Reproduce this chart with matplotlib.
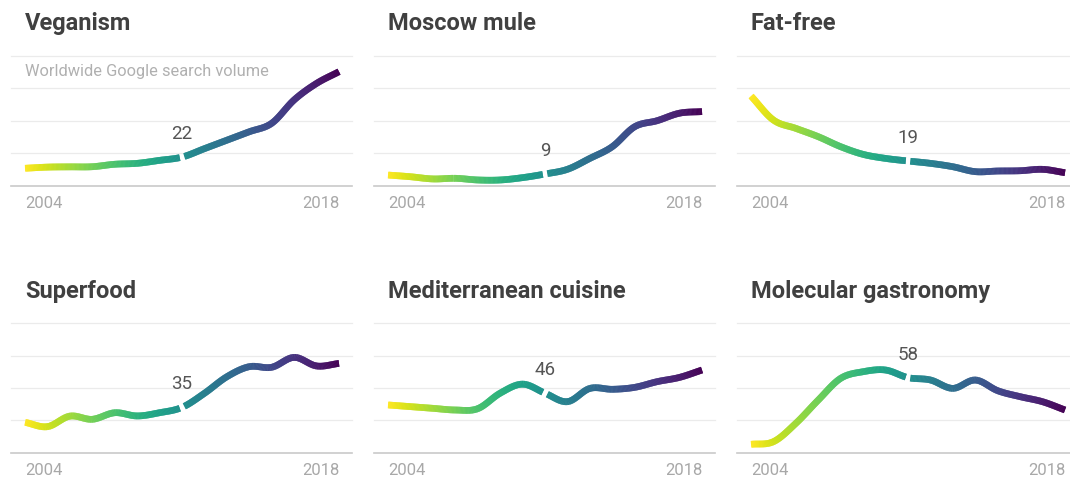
import numpy as np
import matplotlib
matplotlib.use("Agg")
import matplotlib.pyplot as plt
from matplotlib.collections import LineCollection
from matplotlib.colors import Normalize

plt.rcParams["font.family"] = ["Roboto", "DejaVu Sans"]

years = list(range(2004, 2019))

veganism = [13.4, 14.3, 14.5, 14.6, 16.5, 17.2, 19.5, 22, 28.5, 35, 41.5, 48, 66, 78.7, 87.7]
moscow_mule = [8.2, 6.9, 5.2, 5.7, 4.4, 4.4, 6.2, 9, 12.6, 21, 30, 45.4, 50, 55.8, 57]
fat_free = [69, 50.5, 44.1, 37.7, 30, 24.1, 21, 19, 17.2, 14.6, 10.8, 11.3, 11.5, 12.6, 10]
superfood = [23.5, 20.1, 28.3, 25.8, 30.9, 28.4, 30.9, 35, 45.9, 58.7, 66.5, 66, 73.7, 67, 69]
mediterranean = [36.9, 35.6, 34.3, 33, 34, 46, 53, 46, 39.4, 49.7, 49, 50.5, 54.9, 58.2, 63.9]
molecular = [6.5, 8.5, 22.7, 40.7, 57.5, 62.6, 63.9, 58, 56.2, 49.7, 56.2, 47.9, 43.3, 39.4, 33]

titles = ["Veganism", "Moscow mule", "Fat-free",
          "Superfood", "Mediterranean cuisine", "Molecular gastronomy"]
series = [veganism, moscow_mule, fat_free, superfood, mediterranean, molecular]
label_year = 2011
subtitle = "Worldwide Google search volume"
grid_values = [25, 50, 75, 100]

W, H = 1070, 479
fig = plt.figure(figsize=(W / 100, H / 100), dpi=100)
fig.patch.set_facecolor("white")

px_per_year = 22.43
pad = 14 / px_per_year
ax_w = 341
lefts = [11, 374, 737]
rows = [(55.7, 185.7), (323.3, 452.7)]  # (top, bottom) in pixels from top

norm = Normalize(years[0], years[-1])
cmap = plt.cm.viridis_r


def smooth(x, y, n=40):
    x = np.asarray(x, float)
    y = np.asarray(y, float)
    m = np.gradient(y, x)
    xs, ys = [], []
    t = np.linspace(0, 1, n, endpoint=False)
    h00 = 2 * t**3 - 3 * t**2 + 1
    h10 = t**3 - 2 * t**2 + t
    h01 = -2 * t**3 + 3 * t**2
    h11 = t**3 - t**2
    for i in range(len(x) - 1):
        h = x[i + 1] - x[i]
        xs.append(x[i] + t * h)
        ys.append(h00 * y[i] + h10 * h * m[i] + h01 * y[i + 1] + h11 * h * m[i + 1])
    xs.append([x[-1]])
    ys.append([y[-1]])
    return np.concatenate(xs), np.concatenate(ys)


def gradient_run(ax, px, py):
    pts = np.column_stack([px, py])
    m = len(pts)
    segs = [[pts[i], pts[min(i + 2, m - 1)]] for i in range(m - 1)]
    mids = (px[:-1] + px[1:]) / 2
    lc = LineCollection(segs, colors=cmap(norm(mids)), linewidths=4.8,
                        capstyle="butt", joinstyle="round", clip_on=False, zorder=3)
    ax.add_collection(lc)


for idx, (title, vals) in enumerate(zip(titles, series)):
    r, c = divmod(idx, 3)
    top, bottom = rows[r]
    ax = fig.add_axes([lefts[c] / W, (H - bottom) / H, ax_w / W, (bottom - top) / H])
    ax.set_xlim(years[0] - pad, years[-1] + 13 / px_per_year)
    ax.set_ylim(0, 100)
    ax.axis("off")

    for g in grid_values:
        ax.axhline(g, color="#ebebeb", lw=0.9, clip_on=False, zorder=1)
    ax.axhline(0, color="#c9c9c9", lw=1.2, clip_on=False, zorder=1)

    sx, sy = smooth(years, vals)
    gap = 0.09
    left_mask = sx <= label_year - gap
    right_mask = sx >= label_year + gap
    gradient_run(ax, sx[left_mask], sy[left_mask])
    gradient_run(ax, sx[right_mask], sy[right_mask])

    label_val = vals[years.index(label_year)]
    ax.annotate(f"{label_val:g}", xy=(label_year, label_val), xytext=(0, 23),
                textcoords="offset pixels", ha="center", va="center",
                fontsize=13.5, color="#555555", zorder=4)

    ax.annotate(title, xy=(0, 1), xycoords="axes fraction", xytext=(14, 32),
                textcoords="offset pixels", ha="left", va="center",
                fontsize=17, fontweight="bold", color="#404040")

    trans = ax.get_xaxis_transform()
    ax.annotate(str(years[0]), xy=(years[0], 0), xycoords=trans, xytext=(0, -18),
                textcoords="offset pixels", ha="left", va="center",
                fontsize=12, color="#a8a8a8")
    ax.annotate(str(years[-1]), xy=(years[-1], 0), xycoords=trans, xytext=(0, -18),
                textcoords="offset pixels", ha="right", va="center",
                fontsize=12, color="#a8a8a8")

    if idx == 0:
        ax.annotate(subtitle, xy=(years[0], 100), xytext=(0, -16),
                    textcoords="offset pixels", ha="left", va="center",
                    fontsize=11.8, color="#b0b0b0")

fig.savefig("out.png", dpi=100, facecolor="white")
